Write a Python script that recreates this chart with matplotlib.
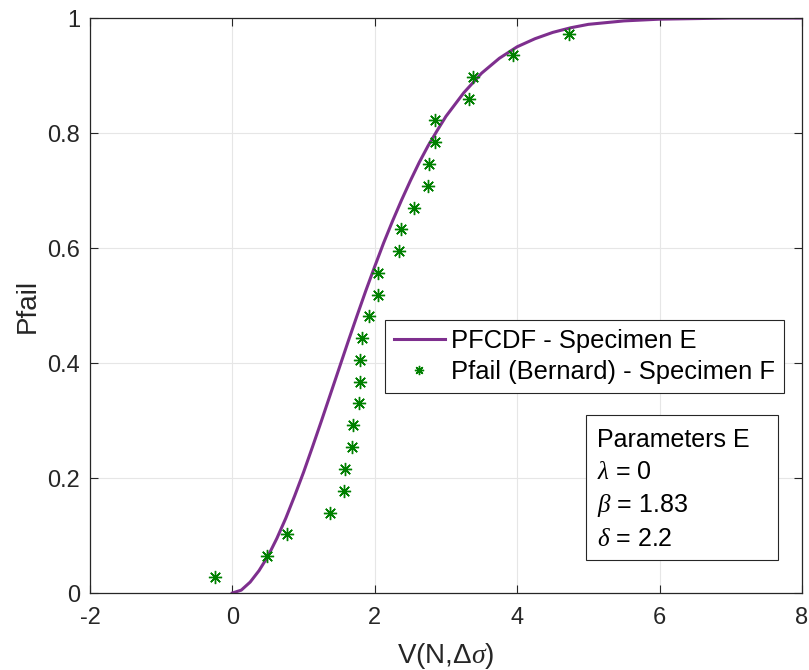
import matplotlib
matplotlib.use("Agg")
import matplotlib.pyplot as plt
from matplotlib.patches import Rectangle

plt.rcParams["font.family"] = ["Liberation Sans", "DejaVu Sans"]
plt.rcParams["axes.unicode_minus"] = False
plt.rcParams["mathtext.fontset"] = "custom"
plt.rcParams["mathtext.rm"] = "Liberation Sans"
plt.rcParams["mathtext.it"] = "Liberation Serif:italic"

# PFCDF curve for specimen E
curve_x = [0, 0.125, 0.25, 0.375, 0.5, 0.625, 0.75, 0.875, 1.0, 1.125, 1.25,
           1.375, 1.5, 1.625, 1.75, 1.875, 2.0, 2.125, 2.25, 2.375, 2.5, 2.625,
           2.75, 2.875, 3.0, 3.25, 3.5, 3.75, 4.0, 4.25, 4.5, 4.75, 5.0, 5.5,
           6.0, 6.5, 7.0, 8.0]
curve_p = [0.0, 0.005, 0.019, 0.039, 0.064, 0.095, 0.130, 0.169, 0.210, 0.254,
           0.299, 0.345, 0.391, 0.437, 0.482, 0.526, 0.568, 0.609, 0.647, 0.683,
           0.717, 0.749, 0.778, 0.804, 0.829, 0.870, 0.904, 0.930, 0.950, 0.964,
           0.975, 0.983, 0.989, 0.995, 0.998, 0.999, 1.0, 1.0]

# Bernard failure probabilities, specimen F
spec_x = [-0.24, 0.49, 0.77, 1.37, 1.57, 1.58, 1.68, 1.69, 1.78, 1.79, 1.79,
          1.82, 1.92, 2.04, 2.04, 2.34, 2.37, 2.55, 2.75, 2.76, 2.84, 2.84,
          3.32, 3.38, 3.94, 4.73]
spec_p = [0.027, 0.064, 0.102, 0.140, 0.178, 0.216, 0.254, 0.292, 0.330, 0.367,
          0.405, 0.443, 0.481, 0.519, 0.557, 0.595, 0.633, 0.670, 0.708, 0.746,
          0.784, 0.822, 0.860, 0.898, 0.936, 0.973]

fig = plt.figure(figsize=(8.09, 6.70), dpi=100)
ax = fig.add_axes([0.1112, 0.1149, 0.8801, 0.8582])

ax.plot(curve_x, curve_p, color="#7E2F8E", lw=2.2, label="PFCDF - Specimen E")
ax.plot(spec_x, spec_p, ls="none", marker=(8, 2, 0), ms=9.5, mew=1.0,
        color="#008000", label="Pfail (Bernard) - Specimen F")

ax.set_xlim(-2, 8)
ax.set_ylim(0, 1)
ax.set_xticks([-2, 0, 2, 4, 6, 8])
ax.set_yticks([0, 0.2, 0.4, 0.6, 0.8, 1])
ax.set_yticklabels(["0", "0.2", "0.4", "0.6", "0.8", "1"])
ax.grid(True, color="#e6e6e6", lw=0.8)
ax.set_axisbelow(True)
ax.tick_params(direction="in", length=6, width=0.8, labelsize=17,
               top=True, right=True, colors="#262626")
ax.tick_params(axis="x", pad=10)
ax.tick_params(axis="y", pad=7)
for s in ax.spines.values():
    s.set_color("#262626")
    s.set_linewidth(0.9)

ax.set_xlabel(r"V(N,$\Delta\sigma$)", fontsize=20, color="#262626", labelpad=9)
ax.set_ylabel("Pfail", fontsize=20, color="#262626", labelpad=5)

leg = ax.legend(loc="upper left", bbox_to_anchor=(0.414, 0.475), borderaxespad=0,
                fontsize=18.4, fancybox=False, framealpha=1, edgecolor="#262626",
                handlelength=2.0, handletextpad=0.25, labelspacing=0.28,
                borderpad=0.35, markerscale=0.7)
leg.get_frame().set_linewidth(0.8)

# parameters box
ax.add_patch(Rectangle((0.6966, 0.0574), 0.2697, 0.2522, transform=ax.transAxes,
                       fc="white", ec="#262626", lw=0.8, zorder=5))
ax.text(0.6966 + 0.0155, 0.3096 - 0.022,
        "Parameters E\n$\\lambda$ = 0\n$\\beta$ = 1.83\n$\\delta$ = 2.2",
        transform=ax.transAxes, fontsize=18, va="top", ha="left",
        linespacing=1.42, zorder=6)

fig.savefig("out.png", dpi=100)
